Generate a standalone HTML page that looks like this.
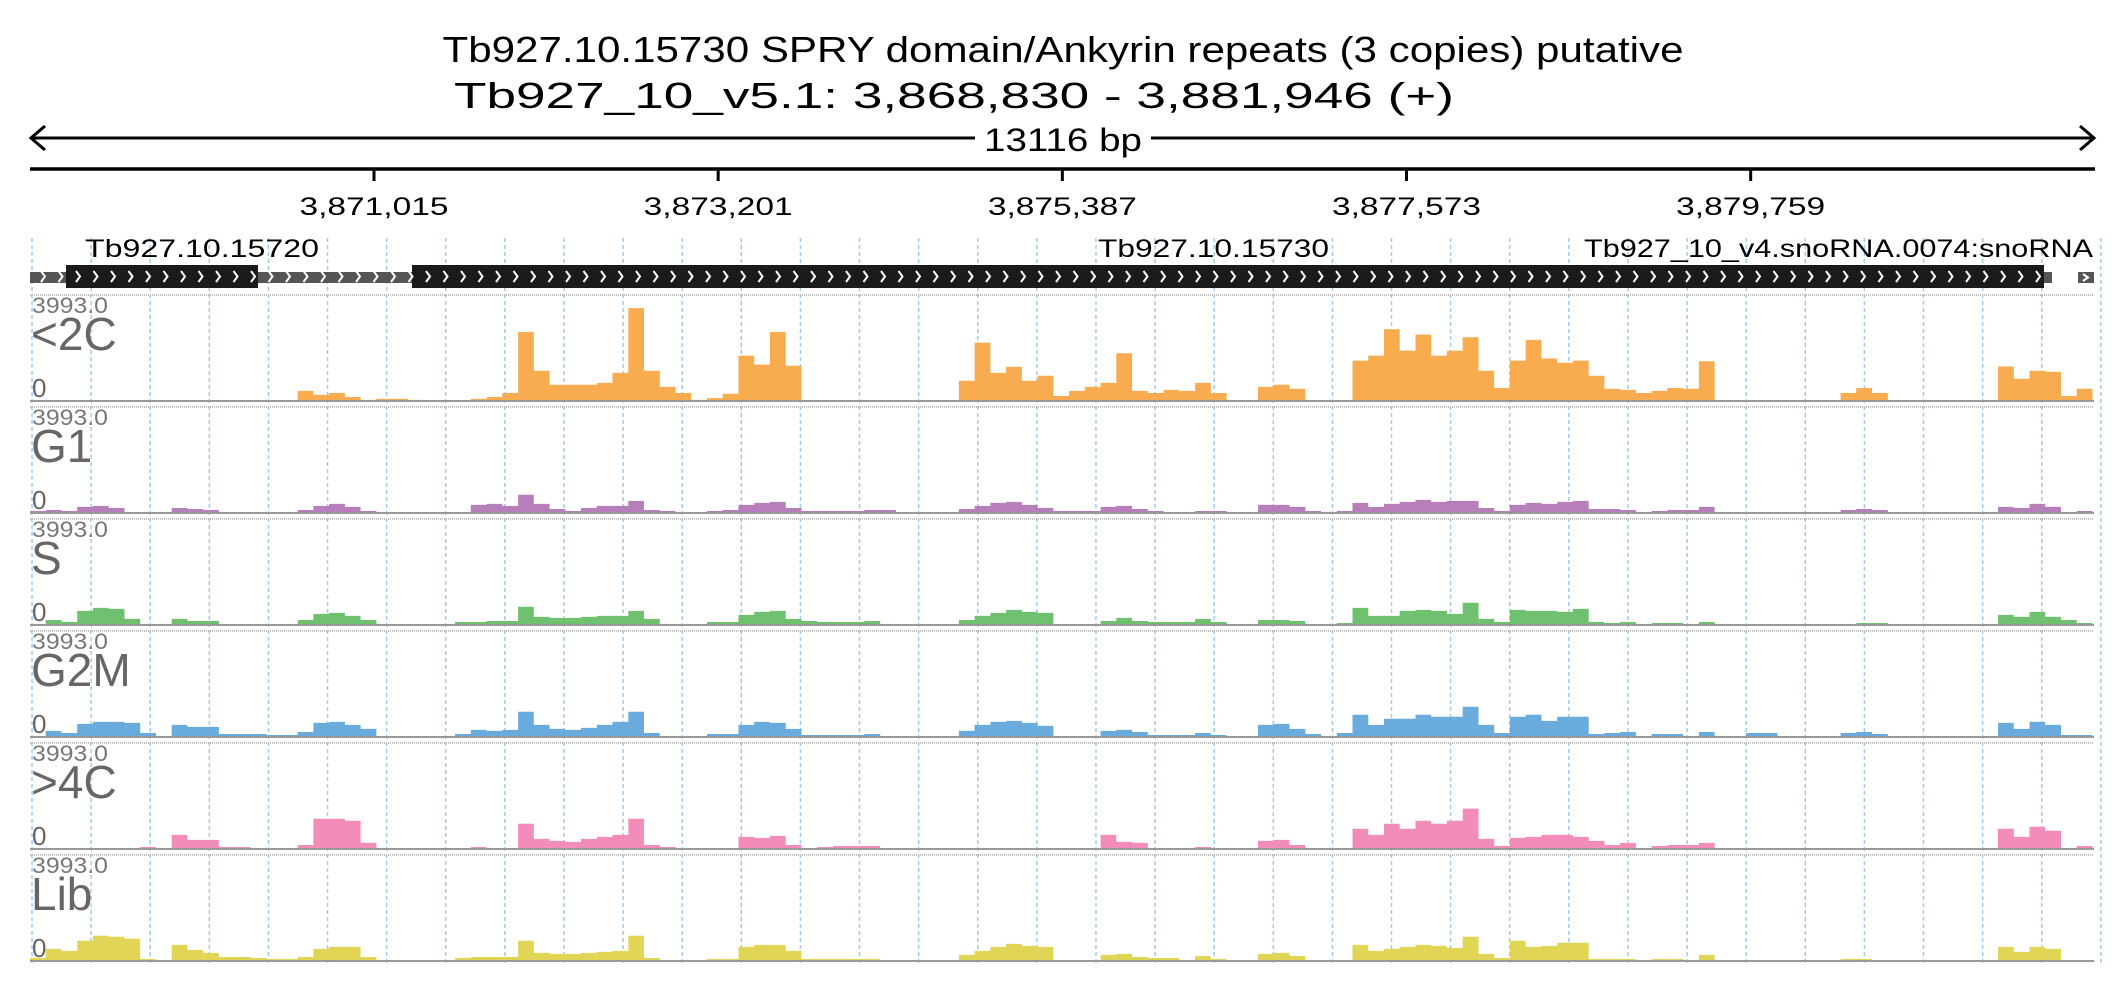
<!DOCTYPE html>
<html><head><meta charset="utf-8"><style>
html,body{margin:0;padding:0;background:#fff;}
svg{display:block;font-family:"Liberation Sans",sans-serif;}
</style></head><body>
<svg id="chart" width="2126" height="1000" viewBox="0 0 2126 1000">
<defs>
<pattern id="chev" x="0" y="0" width="17.5" height="24" patternUnits="userSpaceOnUse">
<polyline points="6,272 10,277.5 6,283" transform="translate(0,-265)" fill="none" stroke="#fff" stroke-width="2"/>
</pattern>
</defs>
<text x="1063" y="62" text-anchor="middle" font-size="36" textLength="1241" lengthAdjust="spacingAndGlyphs" fill="#000">Tb927.10.15730  SPRY domain/Ankyrin repeats (3 copies)  putative</text>
<text x="954" y="108" text-anchor="middle" font-size="36" textLength="1000" lengthAdjust="spacingAndGlyphs" fill="#000">Tb927_10_v5.1: 3,868,830 - 3,881,946 (+)</text>
<g>
<line x1="31" y1="138" x2="2094" y2="138" stroke="#000" stroke-width="3"/>
<polyline points="45,126 31,138 45,150" fill="none" stroke="#000" stroke-width="3"/>
<polyline points="2080,126 2094,138 2080,150" fill="none" stroke="#000" stroke-width="3"/>
<rect x="975" y="120" width="176" height="36" fill="#fff"/>
<text x="1063" y="151" text-anchor="middle" font-size="32" textLength="158" lengthAdjust="spacingAndGlyphs">13116 bp</text>
</g>
<line x1="30" y1="169" x2="2095" y2="169" stroke="#000" stroke-width="3.5"/>
<g id="ticks"></g>
<g id="grid"></g>
<g>
<text x="85" y="257" font-size="25" textLength="234" lengthAdjust="spacingAndGlyphs">Tb927.10.15720</text>
<text x="1098" y="257" font-size="25" textLength="231" lengthAdjust="spacingAndGlyphs">Tb927.10.15730</text>
<text x="1584" y="257" font-size="25" textLength="509" lengthAdjust="spacingAndGlyphs">Tb927_10_v4.snoRNA.0074:snoRNA</text>
<rect x="30" y="272" width="2022" height="11" fill="#555"/>
<rect x="30" y="272" width="2022" height="11" fill="url(#chev)"/>
<rect x="66" y="265" width="192" height="23" fill="#1b1b1b"/>
<rect x="66" y="265" width="192" height="23" fill="url(#chev)"/>
<rect x="412" y="265" width="1632" height="23" fill="#1b1b1b"/>
<rect x="412" y="265" width="1632" height="23" fill="url(#chev)"/>
<rect x="2078" y="272" width="16" height="11" fill="#555"/>
<polyline points="2083,274 2088,277.5 2083,281" fill="none" stroke="#fff" stroke-width="2"/>
</g>
<g id="tracks"></g>
</svg>
<script>
const NS="http://www.w3.org/2000/svg";
const regionStart=3868830, regionEnd=3881946, binSize=100;
const tickPositions=[3871015,3873201,3875387,3877573,3879759];
const trackNames=["<2C","G1","S","G2M",">4C","Lib"];
const trackColors=["#f9ab4f","#b67fbb","#6fc16f","#69abdd","#f28cb9","#e0d555"];
const yMax=3993;
const cov2C=[0,0,0,0,0,0,0,0,0,0, 0,0,0,0,0,0,0,380,230,300, 150,40,80,80,40,0,0,0,80,150, 300,2600,1140,610,610,610,680,1060,3500,1140, 530,300,40,110,270,1710,1370,2600,1330,0, 0,0,0,0,0,0,0,0,0,760, 2200,1060,1290,760,950,190,380,530,680,1800, 380,300,420,380,680,300,0,0,530,610, 460,0,0,0,1520,1710,2700,1900,2500,1710, 1900,2400,1140,490,1520,2300,1600,1440,1520,950, 460,420,300,380,490,460,1500,0,0,0, 0,0,0,0,0,300,490,300,0,0, 0,0,0,0,0,1300,840,1140,1100,190,460];
const covG1=[76,114,76,228,266,190,38,0,0,190, 152,114,38,38,38,38,38,114,266,342, 228,76,38,38,38,0,0,38,304,342, 266,684,342,152,76,190,266,266,456,114, 76,38,38,76,114,304,380,418,190,76, 76,76,76,114,114,38,0,0,0,152, 266,380,418,304,190,76,76,76,228,266, 152,76,38,38,76,76,38,38,304,304, 228,76,0,76,380,228,342,418,494,418, 456,456,190,76,304,380,342,418,456,152, 152,114,0,76,114,114,228,38,38,38, 38,0,0,0,0,114,152,114,0,0, 0,0,0,0,0,228,190,342,228,38,76];
const covS=[38,190,114,532,646,608,228,0,0,228, 152,152,38,38,38,0,38,190,418,456, 342,190,38,38,38,0,0,114,114,152, 152,684,304,266,266,304,342,342,532,228, 38,38,38,114,114,380,494,532,228,152, 114,114,114,152,0,0,0,0,0,190, 342,456,570,494,456,38,38,38,152,266, 152,114,114,114,228,114,0,0,190,190, 152,0,0,76,646,342,342,532,570,532, 418,836,228,114,570,532,532,494,608,114, 76,114,0,76,76,0,114,0,0,38, 38,38,0,0,0,38,76,76,0,0, 0,0,0,0,0,380,304,494,304,190,76];
const covG2M=[38,228,152,494,570,570,532,152,38,456, 380,380,114,114,114,76,76,190,532,570, 456,304,38,38,0,0,38,114,266,228, 266,950,456,304,266,342,456,570,950,152, 38,38,38,114,114,456,570,532,304,76, 76,76,76,114,0,0,0,0,0,228, 456,570,608,532,418,38,38,38,228,266, 190,76,76,76,152,76,38,0,456,494, 304,114,0,152,836,456,684,684,836,760, 760,1140,456,152,760,836,608,760,760,114, 152,190,0,114,114,0,190,0,0,152, 152,38,0,0,0,152,190,114,0,0, 0,0,0,0,0,532,304,570,456,76,76];
const cov4C=[0,0,0,0,38,38,38,76,0,532, 342,342,76,76,38,0,38,152,1140,1140, 1064,228,38,38,38,0,0,38,76,38, 38,950,380,304,266,380,456,532,1140,152, 76,38,0,0,38,456,418,494,152,0, 76,114,114,114,0,0,0,0,38,38, 0,0,0,0,0,0,0,38,532,266, 228,38,0,0,76,38,0,38,304,342, 152,38,38,38,760,532,950,760,1064,950, 1064,1520,380,114,418,456,532,532,456,304, 152,228,0,114,152,152,228,0,0,0, 0,0,0,0,0,0,0,0,0,0, 0,0,0,0,0,760,456,836,684,38,114];
const covLib=[114,456,380,760,950,912,836,76,0,608, 418,304,152,152,114,76,76,152,456,532, 532,152,38,38,0,0,0,114,152,152, 152,760,304,266,266,304,342,380,950,114, 38,38,38,76,76,532,608,608,380,76, 76,76,76,76,0,0,0,0,0,228, 380,532,646,570,532,38,38,38,228,266, 152,114,114,38,190,76,0,0,266,304, 190,0,0,38,608,380,456,532,608,570, 494,912,266,114,760,532,570,684,684,76, 76,76,0,76,76,38,228,0,38,38, 0,0,0,0,0,76,76,38,0,0, 0,0,0,0,0,532,342,532,456,38,38];
const trackData=[cov2C,covG1,covS,covG2M,cov4C,covLib];

const X0=30, X1=2095;
function xScale(g){return X0+(g-regionStart)/(regionEnd-regionStart)*(X1-X0);}
const trackTop0=295, trackPitch=112, trackH=106;
function yScale(v,i){const base=trackTop0+i*trackPitch+trackH;return base-Math.min(v,yMax)/yMax*trackH;}
function mk(tag,attrs,parent){const e=document.createElementNS(NS,tag);for(const k in attrs)e.setAttribute(k,attrs[k]);parent.appendChild(e);return e;}

const tg=document.getElementById('ticks');
tickPositions.forEach(p=>{
  const x=xScale(p);
  const l=mk('line',{x1:x,y1:169,x2:x,y2:181,stroke:'#000','stroke-width':3},tg);
  
  
  const t=mk('text',{x:x,y:215,'text-anchor':'middle','font-size':25,textLength:149,lengthAdjust:'spacingAndGlyphs'},tg);
  t.textContent=p.toLocaleString('en-US');
  
  
});

const gg=document.getElementById('grid');
for(let i=0;i<36;i++){
  const x=32+i*59.11;
  const l=mk('line',{x1:x,y1:238,x2:x,y2:966,stroke:'#9fcbef','stroke-width':1.5,'stroke-dasharray':'4,3'},gg);
  
  
}

const trg=document.getElementById('tracks');
trackData.forEach((arr,i)=>{
  const top=trackTop0+i*trackPitch, base=top+trackH;
  const g=mk('g',{},trg);
  
  
  mk('line',{x1:30,y1:top,x2:2094,y2:top,stroke:'#bdbdbd','stroke-width':2,'stroke-dasharray':'1,1'},g);
  let d='M'+xScale(regionStart)+','+base;
  arr.forEach((v,k)=>{
    const g0=regionStart+k*binSize, g1=Math.min(regionEnd,g0+binSize);
    const y=yScale(v,i);
    d+=' L'+xScale(g0).toFixed(1)+','+y.toFixed(1)+' L'+xScale(g1).toFixed(1)+','+y.toFixed(1);
  });
  d+=' L'+xScale(Math.min(regionEnd,regionStart+arr.length*binSize)).toFixed(1)+','+base+' Z';
  const p=mk('path',{d:d,fill:trackColors[i]},g);
  
  
  mk('line',{x1:30,y1:base,x2:2094,y2:base,stroke:'#999','stroke-width':2},g);
  const mx=mk('text',{x:32,y:top+18,'font-size':22,fill:'#777',textLength:76,lengthAdjust:'spacingAndGlyphs'},g);
  mx.textContent=yMax.toFixed(1);
  
  
  const nm=mk('text',{x:31,y:top+55,'font-size':46,fill:'#666'},g);
  nm.textContent=trackNames[i];
  
  
  const z=mk('text',{x:32,y:top+102,'font-size':26,fill:'#666'},g);
  z.textContent='0';
  
  
});
</script>
</body></html>
